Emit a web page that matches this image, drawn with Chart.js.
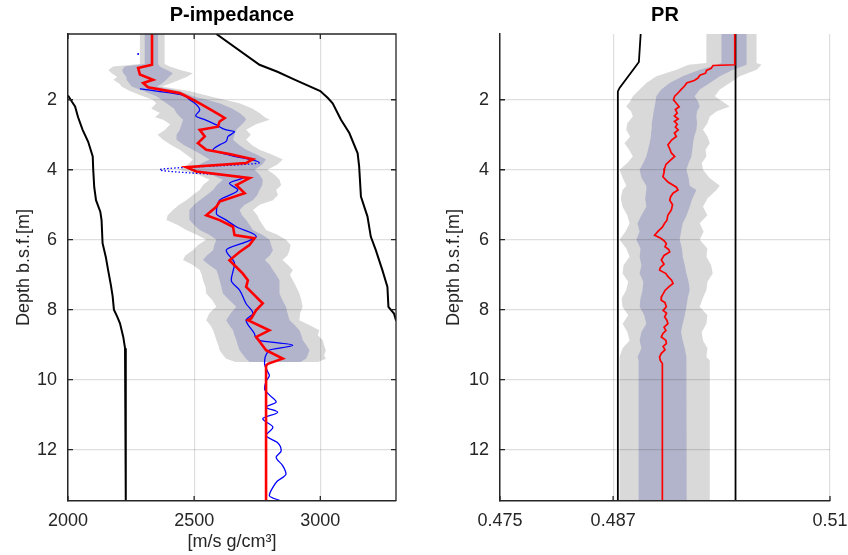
<!DOCTYPE html>
<html>
<head>
<meta charset="utf-8">
<script src="https://cdn.jsdelivr.net/npm/chart.js@4.4.1/dist/chart.umd.min.js"></script>
<style>
    html, body { margin: 0; padding: 0; background: #fff; overflow: hidden; }
    #wrap { position: relative; width: 848px; height: 555px; overflow: hidden; }
    canvas { position: absolute; top: 0; }
    #impChart { left: 0; }
    #prChart { left: 420px; }
</style>
</head>
<body>
<div id="wrap">
    <canvas id="impChart" width="420" height="555"></canvas>
    <canvas id="prChart" width="440" height="555"></canvas>
</div>
<script>
const depthTicks = [2, 4, 6, 8, 10, 12];
const impTicks = [2000, 2500, 3000];
const prTicks = [0.475, 0.487, 0.51];

// P-impedance: uncertainty bands (outer / inner), sampled on one depth list
const impBandDepth = [0.12, 0.98, 1.05, 1.15, 1.24, 1.35, 1.43, 1.55, 1.62, 1.75, 1.9, 2.0, 2.1, 2.25, 2.38, 2.5, 2.57, 2.7, 2.86, 3.0, 3.14, 3.3, 3.43, 3.57, 3.71, 3.85, 4.0, 4.15, 4.29, 4.44, 4.58, 4.72, 4.87, 5.0, 5.15, 5.3, 5.44, 5.58, 5.72, 5.86, 6.0, 6.15, 6.3, 6.45, 6.58, 6.72, 6.87, 7.0, 7.16, 7.35, 7.54, 7.73, 7.92, 8.1, 8.3, 8.45, 8.59, 8.73, 8.87, 9.02, 9.16, 9.3, 9.4, 9.5];
const impOuterLo = [2285, 2285, 2179, 2160, 2173, 2195, 2180, 2205, 2212, 2245, 2298, 2335, 2350, 2330, 2364, 2345, 2377, 2405, 2385, 2355, 2377, 2410, 2443, 2470, 2495, 2475, 2440, 2520, 2561, 2535, 2522, 2495, 2469, 2440, 2416, 2395, 2390, 2435, 2469, 2510, 2548, 2515, 2495, 2465, 2456, 2495, 2522, 2530, 2535, 2545, 2548, 2572, 2588, 2560, 2548, 2565, 2575, 2582, 2588, 2596, 2601, 2615, 2627, 2665];
const impOuterHi = [2383, 2383, 2403, 2445, 2495, 2470, 2443, 2400, 2372, 2480, 2561, 2620, 2680, 2730, 2759, 2780, 2799, 2745, 2706, 2725, 2706, 2730, 2759, 2810, 2851, 2830, 2790, 2820, 2838, 2845, 2825, 2832, 2812, 2760, 2733, 2750, 2759, 2772, 2785, 2830, 2864, 2882, 2878, 2870, 2850, 2872, 2891, 2880, 2891, 2905, 2917, 2925, 2930, 2920, 2917, 2960, 2996, 2990, 3009, 3015, 3022, 3015, 3022, 2990];
const impInnerLo = [2304, 2304, 2225, 2215, 2219, 2232, 2232, 2245, 2252, 2300, 2350, 2370, 2390, 2420, 2430, 2445, 2456, 2450, 2443, 2430, 2430, 2460, 2495, 2530, 2561, 2520, 2490, 2570, 2614, 2590, 2575, 2550, 2522, 2500, 2482, 2480, 2482, 2500, 2522, 2560, 2588, 2580, 2575, 2550, 2535, 2560, 2588, 2595, 2601, 2608, 2614, 2640, 2667, 2645, 2627, 2640, 2654, 2660, 2667, 2673, 2680, 2695, 2706, 2720];
const impInnerHi = [2357, 2357, 2364, 2392, 2416, 2400, 2390, 2370, 2352, 2440, 2495, 2550, 2601, 2650, 2680, 2700, 2706, 2690, 2667, 2660, 2654, 2680, 2706, 2750, 2785, 2770, 2740, 2760, 2772, 2770, 2759, 2750, 2733, 2700, 2680, 2690, 2706, 2720, 2733, 2770, 2799, 2805, 2812, 2800, 2780, 2800, 2812, 2825, 2838, 2838, 2838, 2850, 2864, 2870, 2878, 2900, 2917, 2925, 2930, 2945, 2957, 2950, 2943, 2920];

const impRedDepth = [0.12, 1.0, 1.09, 1.28, 1.43, 1.52, 1.64, 1.81, 1.95, 2.1, 2.24, 2.43, 2.52, 2.62, 2.77, 2.86, 3.05, 3.24, 3.43, 3.55, 3.7, 3.81, 3.93, 4.05, 4.24, 4.44, 4.67, 4.91, 5.06, 5.3, 5.44, 5.63, 5.87, 5.96, 6.15, 6.35, 6.59, 6.78, 6.97, 7.16, 7.35, 7.54, 7.73, 7.82, 8.01, 8.25, 8.3, 8.59, 8.78, 9.16, 9.4, 9.55, 9.6, 13.47];
const impRed = [2333, 2333, 2278, 2285, 2337, 2298, 2317, 2443, 2482, 2522, 2555, 2601, 2621, 2601, 2594, 2522, 2542, 2515, 2548, 2640, 2733, 2706, 2469, 2509, 2720, 2667, 2700, 2601, 2588, 2548, 2601, 2654, 2660, 2739, 2719, 2680, 2640, 2667, 2693, 2713, 2706, 2733, 2759, 2772, 2746, 2726, 2713, 2798, 2746, 2785, 2851, 2792, 2785, 2785];

const impBlueDepth = [1.69, 1.86, 2.0, 2.14, 2.29, 2.46, 2.57, 2.72, 2.86, 2.91, 3.05, 3.19, 3.29, 3.43, 3.58, 3.8, 4.0, 4.22, 4.39, 4.58, 4.87, 5.25, 5.44, 5.63, 5.91, 6.06, 6.3, 6.68, 7.16, 7.44, 7.83, 8.11, 8.3, 8.69, 8.88, 9.02, 9.16, 9.55, 9.78, 9.88, 10.05, 10.26, 10.45, 10.64, 10.79, 10.93, 11.12, 11.36, 11.6, 11.8, 12.03, 12.22, 12.45, 12.7, 12.9, 13.08, 13.32, 13.47];
const impBlue = [2285, 2450, 2482, 2509, 2522, 2506, 2542, 2588, 2627, 2660, 2634, 2627, 2601, 2575, 2640, 2759, 2364, 2693, 2640, 2673, 2601, 2588, 2627, 2667, 2746, 2706, 2627, 2660, 2647, 2680, 2706, 2733, 2706, 2739, 2759, 2891, 2798, 2779, 2792, 2798, 2785, 2779, 2800, 2825, 2785, 2831, 2772, 2812, 2785, 2830, 2845, 2825, 2850, 2864, 2830, 2812, 2798, 2845];
const impBlueDotDepth = [0.69];
const impBlueDot = [2278];

const impLowDepth = [1.88, 2.05, 2.19, 2.5, 2.86, 3.2, 3.62, 4.0, 4.5, 4.87, 5.2, 5.44, 6.1, 6.5, 6.87, 7.3, 7.62, 8.0, 8.2, 8.39, 8.78, 9.1, 9.45, 13.47];
const impLow = [2000, 2015, 2028, 2040, 2058, 2080, 2098, 2100, 2104, 2111, 2128, 2133, 2137, 2150, 2159, 2170, 2177, 2182, 2195, 2206, 2219, 2226, 2229, 2229];
const impHighDepth = [0.12, 1.0, 1.2, 1.43, 1.75, 1.95, 2.1, 2.57, 2.95, 3.53, 3.91, 4.77, 5.34, 5.91, 6.3, 6.87, 7.35, 7.92, 8.11, 8.3, 8.45];
const impHigh = [2588, 2759, 2830, 2900, 3000, 3030, 3049, 3082, 3115, 3148, 3154, 3161, 3187, 3200, 3220, 3246, 3266, 3270, 3292, 3300, 3320];

// PR
const prBandDepth = [0.12, 0.95, 1.0, 1.14, 1.33, 1.52, 1.71, 1.9, 2.05, 2.19, 2.33, 2.48, 2.67, 2.86, 3.05, 3.24, 3.43, 3.62, 3.81, 4.0, 4.23, 4.46, 4.58, 4.82, 5.06, 5.3, 5.53, 5.77, 6.0, 6.25, 6.49, 6.73, 6.97, 7.2, 7.44, 7.68, 7.92, 8.16, 8.4, 8.64, 8.88, 9.1, 9.35, 9.45, 9.5, 13.47];
const prOuterLo = [0.49689, 0.49689, 0.4950, 0.49371, 0.49158, 0.49052, 0.48981, 0.48909, 0.48880, 0.48839, 0.48890, 0.48909, 0.48850, 0.48839, 0.48880, 0.48820, 0.48870, 0.48909, 0.48850, 0.48768, 0.48800, 0.48840, 0.48800, 0.48780, 0.48800, 0.48850, 0.48874, 0.48830, 0.48768, 0.48840, 0.48874, 0.48810, 0.48800, 0.48860, 0.48839, 0.48790, 0.48800, 0.48860, 0.48800, 0.48850, 0.48874, 0.48800, 0.48768, 0.48768, 0.48768, 0.48768];
const prOuterHi = [0.50221, 0.50221, 0.50274, 0.50221, 0.50043, 0.49937, 0.49831, 0.49778, 0.49860, 0.49937, 0.49800, 0.49725, 0.49700, 0.49653, 0.49700, 0.49725, 0.49680, 0.49689, 0.49640, 0.49653, 0.49720, 0.49831, 0.49796, 0.49700, 0.49653, 0.49700, 0.49618, 0.49660, 0.49618, 0.49700, 0.49689, 0.49740, 0.49756, 0.49700, 0.49689, 0.49650, 0.49618, 0.49700, 0.49689, 0.49640, 0.49653, 0.49700, 0.49689, 0.49725, 0.49725, 0.49725];
const prInnerLo = [0.49849, 0.49849, 0.4980, 0.49618, 0.49438, 0.49299, 0.49211, 0.49158, 0.49150, 0.49140, 0.49130, 0.49122, 0.49110, 0.49105, 0.49100, 0.49087, 0.49070, 0.49052, 0.49020, 0.48981, 0.49000, 0.49052, 0.49052, 0.49040, 0.49052, 0.49000, 0.48959, 0.48980, 0.48946, 0.48990, 0.48981, 0.49000, 0.48981, 0.49020, 0.49012, 0.48990, 0.48981, 0.49030, 0.49052, 0.49000, 0.48981, 0.49000, 0.48959, 0.48970, 0.48970, 0.48970];
const prInnerHi = [0.50115, 0.50115, 0.50115, 0.49972, 0.49831, 0.49725, 0.49618, 0.49565, 0.49600, 0.49618, 0.49590, 0.49583, 0.49590, 0.49583, 0.49560, 0.49547, 0.49540, 0.49530, 0.49500, 0.49477, 0.49500, 0.49512, 0.49583, 0.49540, 0.49512, 0.49480, 0.49438, 0.49420, 0.49406, 0.49430, 0.49438, 0.49460, 0.49477, 0.49500, 0.49512, 0.49490, 0.49477, 0.49460, 0.49438, 0.49420, 0.49438, 0.49460, 0.49477, 0.49480, 0.49480, 0.49480];

const prRedDepth = [0.12, 0.95, 1.0, 1.02, 1.1, 1.16, 1.24, 1.3, 1.38, 1.45, 1.52, 1.6, 1.71, 1.8, 1.9, 2.0, 2.1, 2.2, 2.28, 2.38, 2.46, 2.55, 2.62, 2.7, 2.78, 2.86, 2.95, 3.05, 3.15, 3.29, 3.4, 3.52, 3.62, 3.75, 3.85, 3.96, 4.08, 4.2, 4.35, 4.5, 4.58, 4.67, 4.77, 4.87, 5.0, 5.15, 5.3, 5.45, 5.53, 5.65, 5.75, 5.87, 5.95, 6.03, 6.11, 6.2, 6.28, 6.35, 6.45, 6.58, 6.7, 6.8, 6.87, 6.97, 7.05, 7.16, 7.25, 7.35, 7.45, 7.55, 7.64, 7.73, 7.8, 7.92, 8.02, 8.1, 8.21, 8.3, 8.4, 8.5, 8.6, 8.68, 8.78, 8.88, 8.97, 9.05, 9.15, 9.25, 9.35, 9.45, 9.54, 13.47];
const prRed = [0.4999, 0.4999, 0.4999, 0.4976, 0.4974, 0.4969, 0.4968, 0.4962, 0.4960, 0.4956, 0.4948, 0.4946, 0.4942, 0.4939, 0.49353, 0.4934, 0.4937, 0.4940, 0.4936, 0.4938, 0.4935, 0.4939, 0.4935, 0.4938, 0.4936, 0.4939, 0.4935, 0.4937, 0.4932, 0.49281, 0.4930, 0.49317, 0.49353, 0.4930, 0.4926, 0.49246, 0.4924, 0.49228, 0.49281, 0.49371, 0.49388, 0.49335, 0.4931, 0.4930, 0.4933, 0.49317, 0.4928, 0.4927, 0.49246, 0.4922, 0.4918, 0.4914, 0.4920, 0.4924, 0.49264, 0.4925, 0.4929, 0.4930, 0.4924, 0.49211, 0.4924, 0.4920, 0.49193, 0.4926, 0.4928, 0.4932, 0.49335, 0.4929, 0.4925, 0.4923, 0.49211, 0.4921, 0.4925, 0.49264, 0.4923, 0.49266, 0.49246, 0.4927, 0.49281, 0.4924, 0.4926, 0.49228, 0.49211, 0.4926, 0.49264, 0.4923, 0.4925, 0.49211, 0.49193, 0.4920, 0.49222, 0.49222];

const prLowDepth = [0.12, 0.92, 1.05, 1.66, 1.76, 13.47];
const prLow = [0.48992, 0.48973, 0.48938, 0.48768, 0.4875, 0.4875];
const prHighDepth = [0.12, 13.47];
const prHigh = [0.49998, 0.49998];

const FONT = '"Liberation Sans", Arial, Helvetica, sans-serif';
const AXIS_COLOR = '#262626';
const OUTER_COLOR = '#d9d9d9';
const INNER_COLOR = '#b2b4cb';

const toPoints = (depth, vals) => depth.map((d, i) => ({ x: vals[i], y: d }));

const lineSet = (depth, vals, color, width, extra = {}) => ({
    data: toPoints(depth, vals),
    borderColor: color,
    borderWidth: width,
    pointRadius: 0,
    fill: false,
    ...extra
});

// band = upper edge filled down to the next dataset (lower edge)
const bandSets = (depth, lo, hi, color) => [
    { data: toPoints(depth, hi), borderColor: 'rgba(0,0,0,0)', borderWidth: 1, pointRadius: 0, backgroundColor: color, fill: '+1' },
    { data: toPoints(depth, lo), borderColor: 'rgba(0,0,0,0)', borderWidth: 1, pointRadius: 0, fill: false }
];

// MATLAB style: inward ticks, optional box, bold title over the axes
const matlabAxes = {
    id: 'matlabAxes',
    afterDraw(chart, args, opts) {
        const { ctx, chartArea: a, scales } = chart;
        ctx.save();
        ctx.strokeStyle = AXIS_COLOR;
        ctx.lineWidth = 1.3;
        ctx.beginPath();
        scales.x.ticks.forEach(t => {
            const px = scales.x.getPixelForValue(t.value);
            ctx.moveTo(px, a.bottom);
            ctx.lineTo(px, a.bottom - 5);
            if (opts.box) {
                ctx.moveTo(px, a.top);
                ctx.lineTo(px, a.top + 5);
            }
        });
        scales.y.ticks.forEach(t => {
            const py = scales.y.getPixelForValue(t.value);
            ctx.moveTo(a.left, py);
            ctx.lineTo(a.left + 5, py);
            if (opts.box) {
                ctx.moveTo(a.right, py);
                ctx.lineTo(a.right - 5, py);
            }
        });
        if (opts.box) {
            ctx.moveTo(a.left, a.top);
            ctx.lineTo(a.right, a.top);
            ctx.lineTo(a.right, a.bottom);
        }
        ctx.stroke();
        ctx.fillStyle = '#000';
        ctx.font = 'bold 20px ' + FONT;
        ctx.textAlign = 'center';
        ctx.textBaseline = 'middle';
        ctx.fillText(opts.title, (a.left + a.right) / 2, 15);
        ctx.restore();
    }
};

const makeChart = (id, opts) => {
    const tickFont = { family: FONT, size: 18 };
    const gridOpts = { color: 'rgba(0,0,0,0.13)', lineWidth: 1.2, drawTicks: false, z: 1 };
    const borderOpts = { color: AXIS_COLOR, width: 1.5, z: 1 };
    return new Chart(document.getElementById(id), {
        type: 'line',
        data: { datasets: opts.datasets },
        plugins: [matlabAxes],
        options: {
            responsive: false,
            animation: false,
            events: [],
            indexAxis: 'y',
            layout: { autoPadding: false, padding: { top: 34, right: opts.padRight, left: 0, bottom: 0 } },
            plugins: {
                legend: { display: false },
                tooltip: { enabled: false },
                matlabAxes: { title: opts.title, box: opts.box }
            },
            scales: {
                x: {
                    type: 'linear',
                    position: 'bottom',
                    min: opts.xMin,
                    max: opts.xMax,
                    afterBuildTicks: s => { s.ticks = opts.xTicks.map(v => ({ value: v })); },
                    afterFit: s => { s.height = 54; },
                    grid: gridOpts,
                    border: borderOpts,
                    ticks: { color: AXIS_COLOR, font: tickFont, padding: 9, maxRotation: 0, callback: v => String(v) },
                    title: { display: !!opts.xTitle, text: opts.xTitle || '', color: AXIS_COLOR, font: tickFont, padding: { top: 0, bottom: 2 } }
                },
                y: {
                    type: 'linear',
                    reverse: true,
                    min: 0.12,
                    max: 13.47,
                    afterBuildTicks: s => { s.ticks = depthTicks.map(v => ({ value: v })); },
                    afterFit: s => { s.width = opts.yWidth; },
                    grid: gridOpts,
                    border: borderOpts,
                    ticks: { color: AXIS_COLOR, font: tickFont, padding: 11, callback: v => String(v) },
                    title: { display: true, text: 'Depth b.s.f.[m]', color: AXIS_COLOR, font: tickFont, padding: { top: opts.yTitlePad, bottom: 0 } }
                }
            }
        }
    });
};

makeChart('impChart', {
    title: 'P-impedance',
    box: true,
    xMin: 2000,
    xMax: 3300,
    xTicks: impTicks,
    xTitle: '[m/s g/cm³]',
    yWidth: 68,
    yTitlePad: 13,
    padRight: 24,
    datasets: [
        lineSet(impRedDepth, impRed, '#ff0000', 2.6),
        lineSet(impBlueDepth, impBlue, '#0000ff', 1.3, {
            cubicInterpolationMode: 'monotone',
            segment: { borderDash: c => (c.p0.parsed.y >= 3.79 && c.p1.parsed.y <= 4.25 ? [1.5, 2] : undefined) }
        }),
        lineSet(impBlueDotDepth, impBlueDot, '#0000ff', 1, { pointRadius: 1, pointBackgroundColor: '#0000ff', pointBorderWidth: 0 }),
        lineSet(impLowDepth, impLow, '#000000', 2),
        lineSet(impHighDepth, impHigh, '#000000', 2),
        ...bandSets(impBandDepth, impInnerLo, impInnerHi, INNER_COLOR),
        ...bandSets(impBandDepth, impOuterLo, impOuterHi, OUTER_COLOR)
    ]
});

makeChart('prChart', {
    title: 'PR',
    box: false,
    xMin: 0.475,
    xMax: 0.51,
    xTicks: prTicks,
    xTitle: '',
    yWidth: 80,
    yTitlePad: 23,
    padRight: 30,
    datasets: [
        lineSet(prRedDepth, prRed, '#ff0000', 1.7),
        lineSet(prLowDepth, prLow, '#000000', 1.8),
        lineSet(prHighDepth, prHigh, '#000000', 1.8),
        ...bandSets(prBandDepth, prInnerLo, prInnerHi, INNER_COLOR),
        ...bandSets(prBandDepth, prOuterLo, prOuterHi, OUTER_COLOR)
    ]
});
</script>
</body>
</html>
